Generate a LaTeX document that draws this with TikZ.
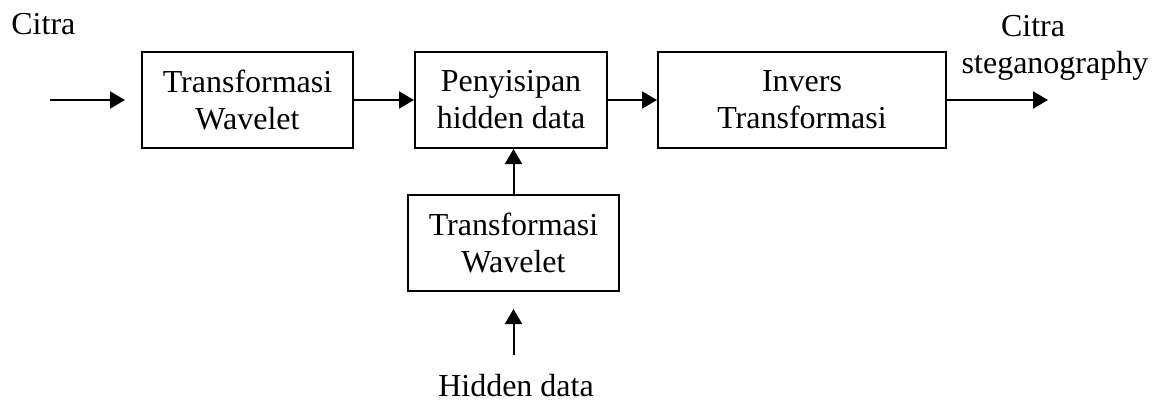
\documentclass[tikz,border=0pt]{standalone}
\usepackage{fontspec}
\setmainfont{Liberation Serif}
\usetikzlibrary{arrows.meta}
\begin{document}
\begin{tikzpicture}[x=0.5pt,y=-0.5pt,font=\fontsize{16}{18.5}\selectfont,
    kotak/.style={draw,line width=1pt,align=center,minimum width=#1,minimum height=48pt,inner sep=0pt},
    panah/.style={-{Triangle[length=7.5pt,width=8.5pt]},line width=1pt},
    teks/.style={inner sep=0pt,align=center}]
    \useasboundingbox(0,0)rectangle(1158,404);
    % blok utama
    \node[kotak=105.5pt](tw1)at(247.5,100){Transformasi\\Wavelet};
    \node[kotak=96pt](sisip)at(511,100){Penyisipan\\hidden data};
    \node[kotak=144pt](invers)at(802,100){Invers\\Transformasi};
    \node[kotak=105.5pt](tw2)at(513.5,243){Transformasi\\Wavelet};
    % label
    \node[teks,anchor=base west](citra)at(11,34){Citra};
    \node[teks,anchor=north](stego)at(1055,15){Citra\hspace*{22pt}\\steganography};
    \node[teks,anchor=base](hidden)at(516,396){Hidden data};
    \coordinate(in)at(50,100);
    \coordinate(out)at(1048,100);
    \coordinate(hdin)at(513.5,355);
    % panah
    \draw[panah,shorten >=8pt](in)--(tw1);
    \draw[panah](tw1)--(sisip);
    \draw[panah](sisip)--(invers);
    \draw[panah](invers)--(out);
    \draw[panah](tw2.north)--(tw2.north|-sisip.south);
    \draw[panah,shorten >=8.5pt](hdin)--(tw2.south);
\end{tikzpicture}
\end{document}
